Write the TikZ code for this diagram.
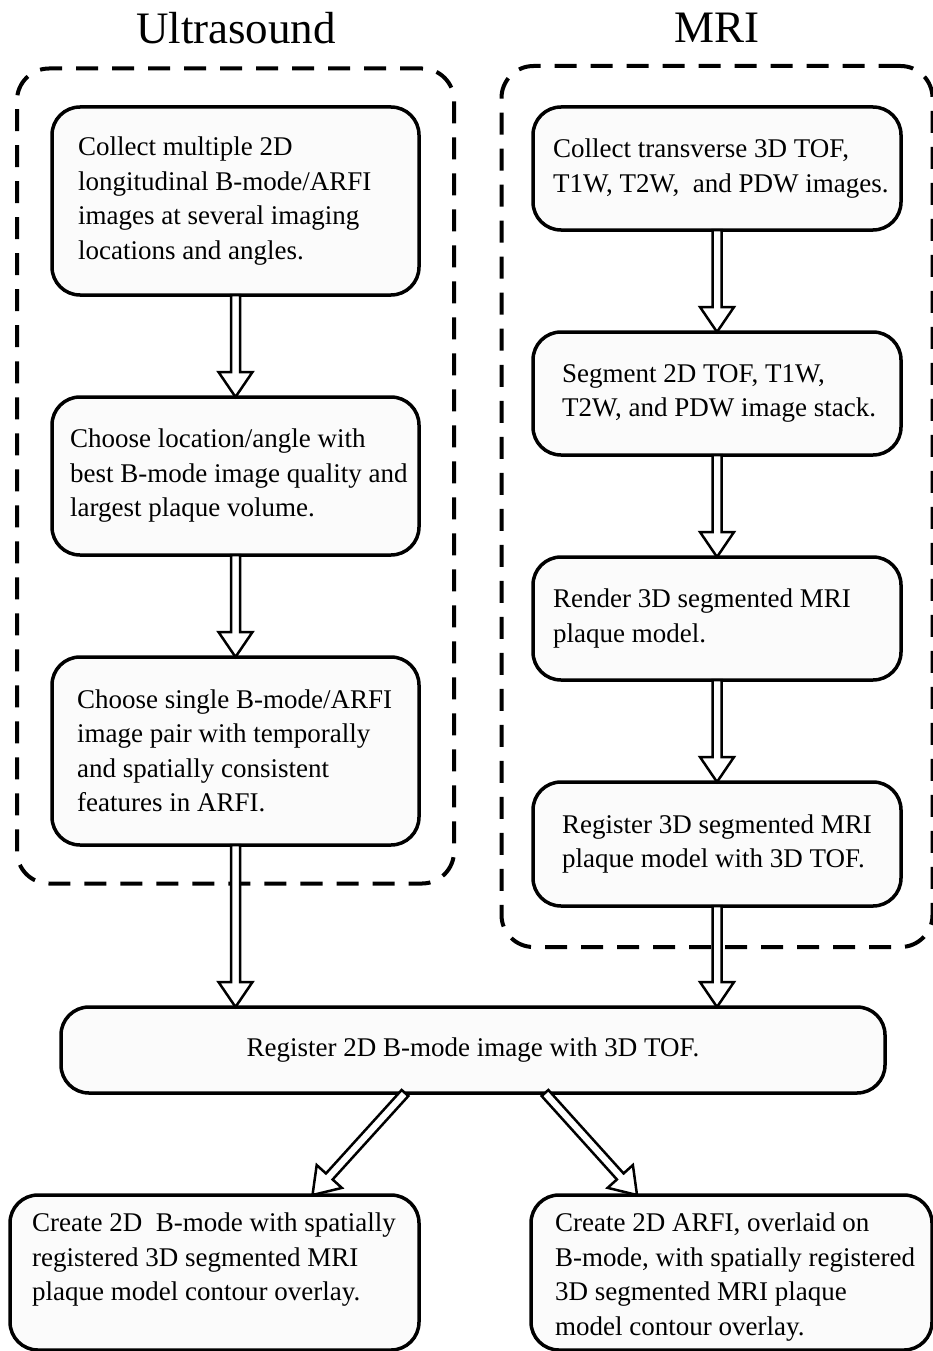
\documentclass[tikz,border=0pt]{standalone}
\usepackage{fontspec}
\setmainfont{Liberation Serif}
\usetikzlibrary{positioning,fit,calc}

\definecolor{boxfill}{gray}{0.985}

\begin{document}
\begin{tikzpicture}[x=1pt,y=-1pt,node distance=102pt,
    body/.style={font=\fontsize{27}{34.5}\selectfont},
    flow box/.style={draw,line width=3.5pt,rounded corners=28pt,fill=boxfill,
                     minimum width=367pt,outer sep=0pt,inner sep=0pt},
    box text/.style={body,anchor=west,align=left,inner sep=0pt},
    group box/.style={draw,line width=4pt,rounded corners=32pt,
                      dash pattern=on 22pt off 14pt},
    title text/.style={font=\fontsize{45}{54}\selectfont},
    fat arrow/.style={draw,line width=2.5pt,fill=white,line join=miter,
      to path={($(\tikztostart)!4.5pt!-90:(\tikztotarget)$)
        -- ($(\tikztotarget)!25pt!(\tikztostart)!4.5pt!-90:(\tikztotarget)$)
        -- ($(\tikztotarget)!25pt!(\tikztostart)!17pt!-90:(\tikztotarget)$)
        -- (\tikztotarget)
        -- ($(\tikztotarget)!25pt!(\tikztostart)!17pt!90:(\tikztotarget)$)
        -- ($(\tikztotarget)!25pt!(\tikztostart)!4.5pt!90:(\tikztotarget)$)
        -- ($(\tikztostart)!4.5pt!90:(\tikztotarget)$) -- cycle}}]
  \useasboundingbox (0,0) rectangle (933,1351);

  % titles
  \node[title text] (ustitle) at (236,28) {Ultrasound};
  \node[title text] (mrititle) at (717,28) {MRI};

  % ultrasound column
  \node[flow box,minimum height=188pt,
        label={[box text,xshift=26pt]west:{Collect multiple 2D\\longitudinal B-mode/ARFI\\images at several imaging\\locations and angles.}}]
        (us1) at (235.5,201) {};
  \node[flow box,minimum height=158pt,below=of us1,
        label={[box text,xshift=18pt]west:{Choose location/angle with\\best B-mode image quality and\\largest plaque volume.}}]
        (us2) {};
  \node[flow box,minimum height=188pt,below=of us2,
        label={[box text,xshift=25pt]west:{Choose single B-mode/ARFI\\image pair with temporally\\and spatially consistent\\features in ARFI.}}]
        (us3) {};

  % mri column
  \node[flow box,minimum width=368pt,minimum height=123pt,
        label={[box text,xshift=20pt]west:{Collect transverse 3D TOF,\\T1W, T2W, \ and PDW images.}}]
        (mri1) at (717,168.5) {};
  \node[flow box,minimum width=368pt,minimum height=123pt,below=of mri1,
        label={[box text,xshift=29pt]west:{Segment 2D TOF, T1W,\\T2W, and PDW image stack.}}]
        (mri2) {};
  \node[flow box,minimum width=368pt,minimum height=123pt,below=of mri2,
        label={[box text,xshift=20pt]west:{Render 3D segmented MRI\\plaque model.}}]
        (mri3) {};
  \node[flow box,minimum width=368pt,minimum height=124pt,below=of mri3,
        label={[box text,xshift=29pt]west:{Register 3D segmented MRI\\plaque model with 3D TOF.}}]
        (mri4) {};

  % dashed groups
  \node[group box,fit=(us1)(us3),inner xsep=35pt,inner ysep=38.5pt] (usgroup) {};
  \node[group box,fit=(mri1)(mri4),inner xsep=31.5pt,inner ysep=41pt] (mrigroup) {};

  % joint and results
  \node[flow box,body,minimum width=824pt,minimum height=86pt] (reg) at (473,1050)
        {Register 2D B-mode image with 3D TOF.};
  \node[flow box,minimum width=409pt,minimum height=155pt,
        label={[box text,xshift=22pt,yshift=12.5pt]west:{Create 2D \ B-mode with spatially\\registered 3D segmented MRI\\plaque model contour overlay.}}]
        (outb) at (214.5,1272.5) {};
  \node[flow box,minimum width=401pt,minimum height=155pt,
        label={[box text,xshift=24pt,yshift=-4.5pt]west:{Create 2D ARFI, overlaid on\\B-mode, with spatially registered\\3D segmented MRI plaque\\model contour overlay.}}]
        (outa) at (731.5,1272.5) {};

  \coordinate (usin) at (us3.south |- reg.north);
  \coordinate (mriin) at (mri4.south |- reg.north);
  \coordinate (regb) at ($(reg.south)+(-68,0)$);
  \coordinate (rega) at ($(reg.south)+(72,0)$);
  \coordinate (outbin) at ($(outb.north)+(98,0)$);
  \coordinate (outain) at ($(outa.north)+(-94.5,0)$);

  \path (us1.south) edge[fat arrow] (us2.north)
        (us2.south) edge[fat arrow] (us3.north)
        (us3.south) edge[fat arrow] (usin)
        (mri1.south) edge[fat arrow] (mri2.north)
        (mri2.south) edge[fat arrow] (mri3.north)
        (mri3.south) edge[fat arrow] (mri4.north)
        (mri4.south) edge[fat arrow] (mriin)
        (regb) edge[fat arrow] (outbin)
        (rega) edge[fat arrow] (outain);
\end{tikzpicture}
\end{document}
